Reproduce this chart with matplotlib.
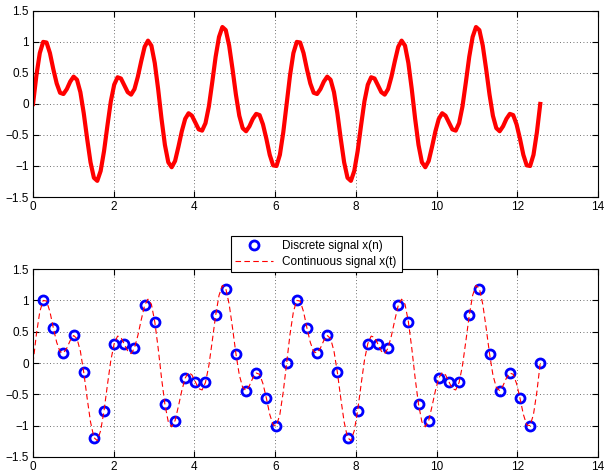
import numpy as np
import matplotlib
matplotlib.use("Agg")
import matplotlib.pyplot as plt
from matplotlib.ticker import FuncFormatter

# continuous signal x(t), sampled finely over 0..4*pi
x_cont = [
    0.00, 0.46, 0.82, 1.00, 0.99, 0.82, 0.56, 0.33, 0.18, 0.16,
    0.24, 0.36, 0.44, 0.39, 0.19, -0.15, -0.56, -0.94, -1.19, -1.24,
    -1.08, -0.76, -0.35, 0.04, 0.31, 0.43, 0.41, 0.30, 0.19, 0.15,
    0.24, 0.44, 0.69, 0.92, 1.02, 0.94, 0.66, 0.24, -0.24, -0.66,
    -0.94, -1.02, -0.92, -0.69, -0.44, -0.24, -0.15, -0.19, -0.30, -0.41,
    -0.43, -0.31, -0.04, 0.35, 0.76, 1.08, 1.24, 1.19, 0.94, 0.56,
    0.15, -0.19, -0.39, -0.44, -0.36, -0.24, -0.16, -0.18, -0.33, -0.56,
    -0.82, -0.99, -1.00, -0.82, -0.46, 0.00, 0.46, 0.82, 1.00, 0.99,
    0.82, 0.56, 0.33, 0.18, 0.16, 0.24, 0.36, 0.44, 0.39, 0.19,
    -0.15, -0.56, -0.94, -1.19, -1.24, -1.08, -0.76, -0.35, 0.04, 0.31,
    0.43, 0.41, 0.30, 0.19, 0.15, 0.24, 0.44, 0.69, 0.92, 1.02,
    0.94, 0.66, 0.24, -0.24, -0.66, -0.94, -1.02, -0.92, -0.69, -0.44,
    -0.24, -0.15, -0.19, -0.30, -0.41, -0.43, -0.31, -0.04, 0.35, 0.76,
    1.08, 1.24, 1.19, 0.94, 0.56, 0.15, -0.19, -0.39, -0.44, -0.36,
    -0.24, -0.16, -0.18, -0.33, -0.56, -0.82, -0.99, -1.00, -0.82, -0.46,
    0.00,
]

# discrete samples x(n), n = 1..50
x_disc = [
    1.00, 0.56, 0.16, 0.44, -0.15, -1.19, -0.76, 0.31, 0.30, 0.24,
    0.92, 0.66, -0.66, -0.92, -0.24, -0.30, -0.31, 0.76, 1.19, 0.15,
    -0.44, -0.16, -0.56, -1.00, 0.00, 1.00, 0.56, 0.16, 0.44, -0.15,
    -1.19, -0.76, 0.31, 0.30, 0.24, 0.92, 0.66, -0.66, -0.92, -0.24,
    -0.30, -0.31, 0.76, 1.19, 0.15, -0.44, -0.16, -0.56, -1.00, 0.00,
]

x_ticks = [0, 2, 4, 6, 8, 10, 12, 14]
y_ticks = [-1.5, -1, -0.5, 0, 0.5, 1, 1.5]

t_cont = np.linspace(0, 4 * np.pi, len(x_cont))
t_disc = np.arange(1, len(x_disc) + 1) * 4 * np.pi / len(x_disc)

plt.rcParams['font.family'] = ['Liberation Sans', 'DejaVu Sans']
plt.rcParams['font.size'] = 8.5


def fmt(v, pos):
    return ('%g' % v).replace('-', '\u2212')


def style_axes(ax):
    ax.set_xlim(0, 14)
    ax.set_ylim(-1.5, 1.5)
    ax.set_xticks(x_ticks)
    ax.set_yticks(y_ticks)
    ax.xaxis.set_major_formatter(FuncFormatter(fmt))
    ax.yaxis.set_major_formatter(FuncFormatter(fmt))
    ax.tick_params(direction='in', top=True, right=True, length=4, width=0.8,
                   labelsize=8.5, pad=3)
    ax.grid(True, linestyle=(0, (1, 3)), color='0.25', linewidth=0.6)
    for s in ax.spines.values():
        s.set_linewidth(0.8)


fig = plt.figure(figsize=(6.06, 4.73), dpi=100)

ax1 = fig.add_axes([0.0545, 0.5835, 0.9325, 0.3935])
ax1.plot(t_cont, x_cont, color='red', linewidth=3)
style_axes(ax1)

ax2 = fig.add_axes([0.0545, 0.034, 0.9325, 0.397])
ax2.plot(t_disc, x_disc, 'o', color='blue', markerfacecolor='none',
         markersize=6.5, markeredgewidth=2, label='Discrete signal x(n)')
ax2.plot(t_cont, x_cont, color='red', linewidth=0.8, dashes=(5, 3),
         label='Continuous signal x(t)')
style_axes(ax2)

leg = ax2.legend(loc='center', bbox_to_anchor=(0.5215, 0.463),
                 bbox_transform=fig.transFigure, numpoints=1, fancybox=False,
                 framealpha=1, edgecolor='black', fontsize=8.5, handlelength=3.2,
                 borderpad=0.4, labelspacing=0.3)
leg.get_frame().set_linewidth(0.8)
leg.set_zorder(10)

fig.savefig('out.png', dpi=100)
